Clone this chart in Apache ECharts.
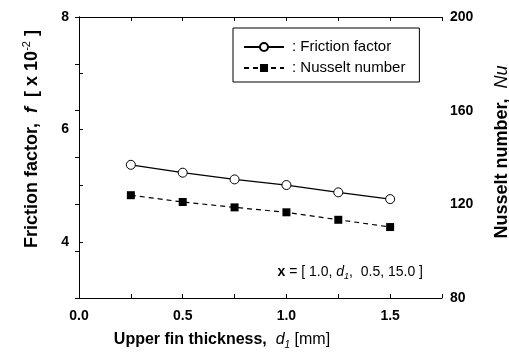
<!DOCTYPE html>
<html>
<head>
<meta charset="utf-8">
<script src="https://cdn.jsdelivr.net/npm/echarts@6/dist/echarts.min.js"></script>
<style>
  html, body { margin: 0; padding: 0; background: #fff; }
  #chart { width: 509px; height: 361px; }
</style>
</head>
<body>
<div id="chart"></div>
<script>
// upper fin thickness d1 [mm]
const thickness = [0.25, 0.5, 0.75, 1.0, 1.25, 1.5];
// friction factor f [x 10^-2]
const frictionFactor = [5.37, 5.23, 5.11, 5.01, 4.88, 4.76];
// Nusselt number Nu
const nusseltNumber = [123.9, 121.0, 118.7, 116.6, 113.4, 110.3];

const xLabels = ['0.0', '0.5', '1.0', '1.5'];
const leftLabels = ['4', '6', '8'];
const rightLabels = ['80', '120', '160', '200'];

const FONT = '"Liberation Sans", Arial, sans-serif';

const chart = echarts.init(document.getElementById('chart'));

const tickLabel = {
  fontFamily: FONT,
  fontWeight: 'bold',
  fontSize: 14,
  color: '#000',
};

const option = {
  animation: false,
  backgroundColor: '#fff',
  grid: { left: 79, right: 67, top: 17, bottom: 63 },
  legend: {
    left: 233,
    top: 28,
    orient: 'vertical',
    padding: [11, 14, 6, 10],
    itemGap: 5,
    itemWidth: 40,
    itemHeight: 10,
    borderColor: '#000',
    borderWidth: 1,
    borderRadius: 0,
    textStyle: { fontFamily: FONT, fontSize: 15, lineHeight: 16, color: '#000', padding: [0, 0, 0, 3] },
    formatter: (name) => ': ' + name,
    data: ['Friction factor', 'Nusselt number'],
  },
  xAxis: [
    {
      type: 'value',
      min: 0,
      max: 1.75,
      interval: 0.25,
      axisLine: { show: true, onZero: false, lineStyle: { color: '#000', width: 1 } },
      axisTick: { show: true, inside: true, length: 4, lineStyle: { color: '#000' } },
      splitLine: { show: false },
      axisLabel: {
        ...tickLabel,
        margin: 11,
        formatter: (v) => {
          const s = v.toFixed(1);
          return xLabels.includes(s) && Math.abs(v * 2 - Math.round(v * 2)) < 1e-9 ? s : '';
        },
      },
    },
    {
      type: 'value',
      position: 'top',
      min: 0,
      max: 1.75,
      interval: 0.25,
      axisLine: { show: true, lineStyle: { color: '#000', width: 1 } },
      axisTick: { show: true, inside: true, length: 4, lineStyle: { color: '#000' } },
      splitLine: { show: false },
      axisLabel: { show: false },
    },
  ],
  yAxis: [
    {
      type: 'value',
      min: 3,
      max: 8,
      interval: 1,
      axisLine: { show: true, lineStyle: { color: '#000', width: 1 } },
      axisTick: { show: true, inside: true, length: 4, lineStyle: { color: '#000' } },
      splitLine: { show: false },
      axisLabel: {
        ...tickLabel,
        margin: 10,
        formatter: (v) => (leftLabels.includes(String(v)) ? String(v) : ''),
      },
    },
    {
      type: 'value',
      position: 'right',
      min: 80,
      max: 200,
      interval: 20,
      axisLine: { show: true, lineStyle: { color: '#000', width: 1 } },
      axisTick: { show: true, inside: true, length: 4, lineStyle: { color: '#000' } },
      splitLine: { show: false },
      axisLabel: {
        ...tickLabel,
        margin: 8,
        formatter: (v) => (rightLabels.includes(String(v)) ? String(v) : ''),
      },
    },
  ],
  series: [
    {
      name: 'Friction factor',
      type: 'line',
      yAxisIndex: 0,
      data: thickness.map((x, i) => [x, frictionFactor[i]]),
      symbol: 'circle',
      symbolSize: 9,
      color: '#000',
      lineStyle: { color: '#000', width: 1.2 },
      itemStyle: { color: '#fff', borderColor: '#000', borderWidth: 1 },
    },
    {
      name: 'Nusselt number',
      type: 'line',
      yAxisIndex: 1,
      data: thickness.map((x, i) => [x, nusseltNumber[i]]),
      symbol: 'rect',
      symbolSize: 8,
      color: '#000',
      lineStyle: { color: '#000', width: 1.2, type: [5, 4] },
      itemStyle: { color: '#000' },
    },
  ],
  graphic: [
    {
      type: 'text',
      x: 222,
      y: 340,
      style: {
        text: '{b|Upper fin thickness,  }{i|d}{s|1}{r| [mm]}',
        textAlign: 'center',
        textVerticalAlign: 'middle',
        rich: {
          b: { fontFamily: FONT, fontWeight: 'bold', fontSize: 16, fill: '#000', lineHeight: 20 },
          i: { fontFamily: FONT, fontStyle: 'italic', fontSize: 16, fill: '#000', lineHeight: 20 },
          s: { fontFamily: FONT, fontStyle: 'italic', fontSize: 10, fill: '#000', lineHeight: 20, verticalAlign: 'bottom' },
          r: { fontFamily: FONT, fontSize: 16, fill: '#000', lineHeight: 20 },
        },
      },
    },
    {
      type: 'text',
      x: 32,
      y: 139,
      rotation: Math.PI / 2,
      style: {
        text: '{b|Friction factor,  }{i|f}{b|  [ x 10}{p|-2}{b| ]}',
        textAlign: 'center',
        textVerticalAlign: 'middle',
        rich: {
          b: { fontFamily: FONT, fontWeight: 'bold', fontSize: 18, fill: '#000', lineHeight: 22 },
          i: { fontFamily: FONT, fontStyle: 'italic', fontWeight: 'bold', fontSize: 18, fill: '#000', lineHeight: 22 },
          p: { fontFamily: FONT, fontSize: 11, fill: '#000', lineHeight: 22, verticalAlign: 'top' },
        },
      },
    },
    {
      type: 'text',
      x: 502,
      y: 152,
      rotation: Math.PI / 2,
      style: {
        text: '{b|Nusselt number,  }{i|Nu}',
        textAlign: 'center',
        textVerticalAlign: 'middle',
        rich: {
          b: { fontFamily: FONT, fontWeight: 'bold', fontSize: 18, fill: '#000', lineHeight: 22 },
          i: { fontFamily: FONT, fontStyle: 'italic', fontSize: 18, fill: '#000', lineHeight: 22 },
        },
      },
    },
    {
      type: 'text',
      x: 423,
      y: 272,
      style: {
        text: '{b|x}{r| = [ 1.0, }{i|d}{s|1}{r|,  0.5, 15.0 ]}',
        textAlign: 'right',
        textVerticalAlign: 'middle',
        rich: {
          b: { fontFamily: FONT, fontWeight: 'bold', fontSize: 14, fill: '#000', lineHeight: 18 },
          r: { fontFamily: FONT, fontSize: 14, fill: '#000', lineHeight: 18 },
          i: { fontFamily: FONT, fontStyle: 'italic', fontSize: 14, fill: '#000', lineHeight: 18 },
          s: { fontFamily: FONT, fontStyle: 'italic', fontSize: 9, fill: '#000', lineHeight: 18, verticalAlign: 'bottom' },
        },
      },
    },
  ],
};

chart.setOption(option);
</script>
</body>
</html>
